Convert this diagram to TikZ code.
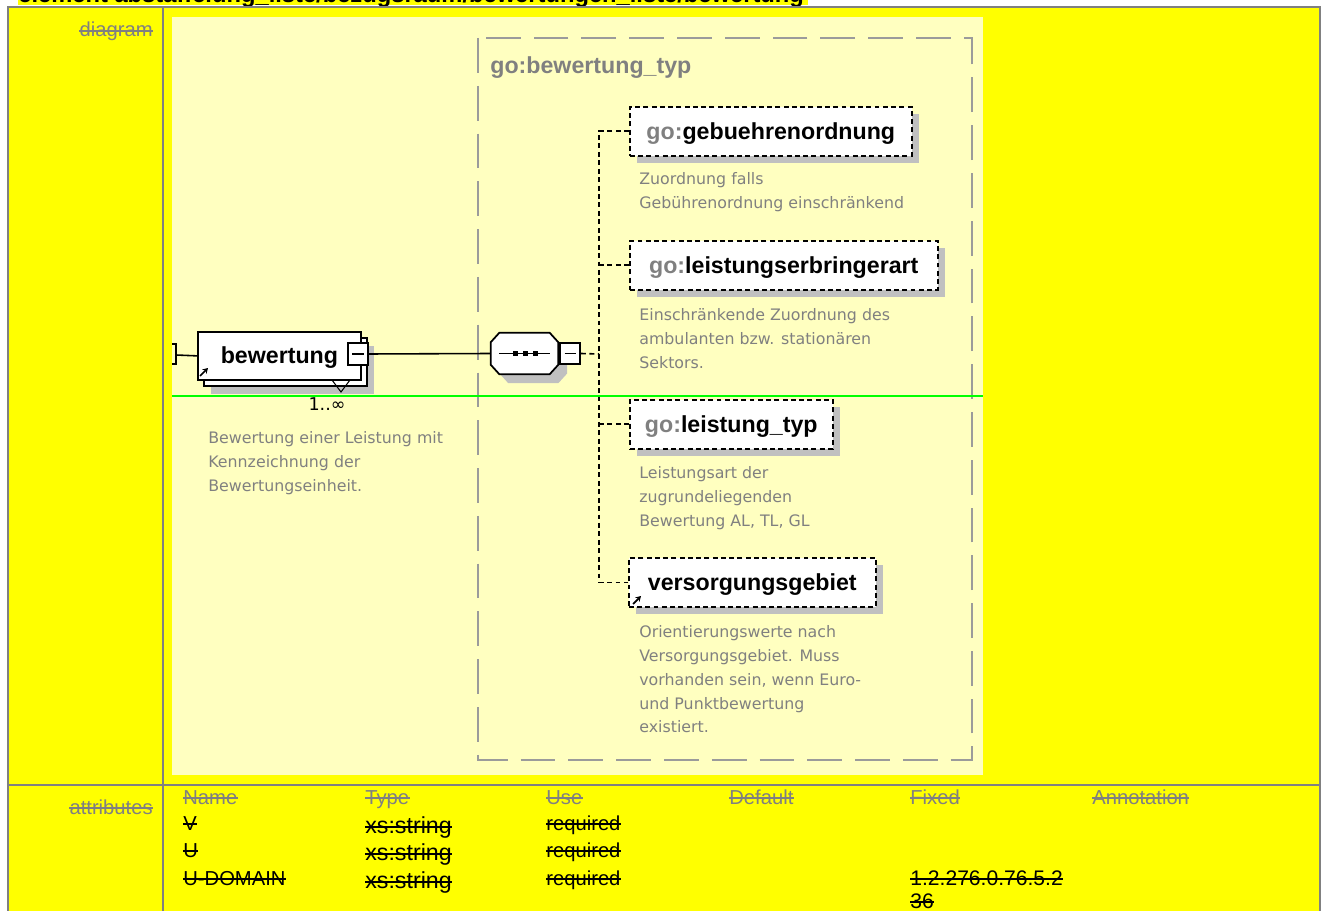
\documentclass[tikz,border=0pt]{standalone}
\usepackage{fontspec}
\setmainfont{Liberation Sans}
\newfontfamily\notefont{DejaVu Sans}
\usetikzlibrary{arrows.meta,calc,positioning,shadows}
\definecolor{cellyellow}{RGB}{255,255,0}
\definecolor{panelyellow}{RGB}{255,255,192}
\definecolor{gridgray}{RGB}{128,128,128}
\definecolor{boxgray}{RGB}{155,155,155}
\definecolor{shadegray}{RGB}{192,192,192}
\definecolor{guidegreen}{RGB}{0,255,0}
\newlength{\pxl}
\setlength{\pxl}{0.02cm}
\newcommand{\nsgo}{\textcolor{gridgray}{go:}}
% line through a table entry
\newcommand{\strikenode}[2][gridgray]{%
  \draw[#1, line width=0.75pt] ([yshift=3.4pt]#2.base west) -- ([yshift=3.4pt]#2.base east);}
% octagon round a node
\newcommand{\octpath}[1]{([xshift=5pt]#1.north west) -- ([xshift=-5pt]#1.north east)
  -- ([yshift=-5.5pt]#1.north east) -- ([yshift=5.5pt]#1.south east)
  -- ([xshift=-5pt]#1.south east) -- ([xshift=5pt]#1.south west)
  -- ([yshift=5.5pt]#1.south west) -- ([yshift=-5.5pt]#1.north west) -- cycle}

\begin{document}
\begin{tikzpicture}[x=0.02cm, y=-0.02cm, >=Stealth,
    tabfont/.style={font=\fontsize{11.5}{13}\selectfont, inner sep=0pt},
    tabhead/.style={tabfont, text=gridgray},
    tabcell/.style={tabfont, text=black},
    elem/.style={draw=black, line width=0.9pt, dash pattern=on 2.8pt off 1.9pt,
      fill=white, inner sep=0pt, anchor=north west, minimum height=49*\pxl,
      text height=1.1em, text depth=0.2em,
      font=\fontsize{13.2}{16}\selectfont\bfseries,
      general shadow={shadow xshift=4pt, shadow yshift=-4pt, fill=shadegray}},
    bewbox/.style={draw=black, line width=1pt, fill=white, inner sep=0pt,
      anchor=north west, minimum width=163*\pxl, minimum height=48*\pxl,
      text height=1.1em, text depth=0.2em,
      font=\fontsize{13.2}{16}\selectfont\bfseries,
      general shadow={shadow xshift=7.4pt, shadow yshift=-7.9pt, fill=shadegray},
      general shadow={shadow xshift=3.4pt, shadow yshift=-3.4pt, fill=white, draw=black}},
    seqbox/.style={inner sep=0pt, minimum width=67*\pxl, minimum height=41*\pxl},
    note/.style={anchor=north west, align=left, inner sep=0pt, text=gridgray,
      font=\notefont\fontsize{9}{13.6}\selectfont},
    wire/.style={line width=0.9pt},
    link/.style={line width=0.9pt, dash pattern=on 2.8pt off 2pt},
    minus/.style={draw=black, line width=0.9pt, fill=white, inner sep=0pt,
      minimum width=20*\pxl, minimum height=21*\pxl,
      path picture={\draw[line width=0.9pt]
        ([xshift=2.5pt]path picture bounding box.west) --
        ([xshift=-2.5pt]path picture bounding box.east);}},
    reflink/.style={-{Stealth[length=3pt,width=3.5pt]}, line width=1pt}
  ]
  \clip (0,0) rectangle (1324,911);
  \fill[white] (0,0) rectangle (1324,911);

  % Heading
  \fill[cellyellow] (18,-20) rectangle (808,5.5);
  \node[anchor=base west, inner sep=0pt, font=\fontsize{13.5}{15}\selectfont\bfseries]
    (title) at (18,2.5) {element abstaffelung\_liste/bezugsraum/bewertungen\_liste/bewertung};

  % Table
  \fill[cellyellow] (8,7) rectangle (1320,920);
  \draw[gridgray, line width=1.1pt] (8,920) -- (8,7) -- (1320,7) -- (1320,920);
  \draw[gridgray, line width=1.1pt] (163,7) -- (163,920);
  \draw[gridgray, line width=1.1pt] (8,785) -- (1320,785);
  \node[tabhead, anchor=base east] (diaglabel) at (153,37) {diagram};
  \node[tabhead, anchor=base east] (attrlabel) at (153,814) {attributes};
  \strikenode{diaglabel}
  \strikenode{attrlabel}

  % Diagram panel
  \fill[panelyellow] (172,17) rectangle (983,775);
  \draw[boxgray, line width=1.1pt, dash pattern=on 19.8pt off 7.4pt]
    (478,38) rectangle (972,760);
  \node[anchor=base west, inner sep=0pt, text=gridgray,
    font=\fontsize{13.2}{16}\selectfont\bfseries] (typname) at (490,74) {go:bewertung\_typ};

  % Element bewertung
  \coordinate (inlet) at (176,355);
  \draw[wire] (172,344) -- (176,344) -- (176,364) -- (172,364);
  \node[bewbox] (bewertung) at (197,331) {bewertung\hspace{8\pxl}};
  \node[minus, minimum height=22*\pxl] (bewminus) at (358,354) {};
  \draw[line width=0.6pt] (332,380) -- (341,392) -- (350,380);
  \draw[reflink] (200,376) -- (208,368);
  \node[anchor=base, inner sep=0pt, font=\notefont\fontsize{10}{12}\selectfont]
    (bewcount) at (327,411) {1..∞};
  \node[note] (bewnote) at (208,431) {Bewertung einer Leistung mit\\Kennzeichnung der\\Bewertungseinheit.};

  % Sequence
  \node[seqbox] (seq) at (524.5,353.5) {};
  \fill[shadegray, transform canvas={xshift=5pt, yshift=-5pt}] \octpath{seq};
  \draw[line width=1pt, fill=white] \octpath{seq};
  \draw[wire] ([xshift=5pt]seq.west) -- ([xshift=-4.5pt]seq.east);
  \foreach \sx in {515,525,535}
    \fill (\sx-2.5,351.5) rectangle (\sx+2.5,356.5);
  \node[minus, right=0.6pt of seq] (seqminus) {};
  \coordinate (spine) at (599,354);
  \draw[wire] (inlet) -- (bewertung.west);
  \draw[wire] (bewminus.east) -- (seq.west);
  \draw[link] (seqminus.east) -- (spine);

  % Children
  \node[elem, minimum width=282*\pxl] (gebuehr) at (629,106) {\nsgo gebuehrenordnung};
  \node[elem, minimum width=308*\pxl] (leistart) at (629,240) {\nsgo leistungserbringerart};
  \node[elem, minimum width=203*\pxl] (leisttyp) at (629,399) {\nsgo leistung\_typ};
  \node[elem, minimum width=247*\pxl] (versorg) at (628,557) {versorgungsgebiet};
  \draw[reflink] (633,604) -- (641,596);
  \draw[link] (gebuehr.west) -- (gebuehr.west -| spine) -- (versorg.west -| spine) -- (versorg.west);
  \draw[link] (leistart.west -| spine) -- (leistart.west);
  \draw[link] (leisttyp.west -| spine) -- (leisttyp.west);

  \node[note] (gebnote) at (639,172) {Zuordnung falls\\Gebührenordnung einschränkend};
  \node[note] (artnote) at (639,308) {Einschränkende Zuordnung des\\ambulanten bzw. stationären\\Sektors.};
  \node[note] (typnote) at (639,466) {Leistungsart der\\zugrundeliegenden\\Bewertung AL, TL, GL};
  \node[note] (versnote) at (639,625) {Orientierungswerte nach\\Versorgungsgebiet. Muss\\vorhanden sein, wenn Euro-\\und Punktbewertung\\existiert.};

  \draw[guidegreen, line width=1.1pt] (172,396) -- (983,396);

  % Attributes
  \foreach \hd/\hx in {Name/183, Type/365, Use/546, Default/729, Fixed/910, Annotation/1092} {
    \node[tabhead, anchor=base west] (head\hd) at (\hx,804) {\hd};
    \strikenode{head\hd}
  }
  \foreach \nm/\yy in {V/830, U/857, U-DOMAIN/885} {
    \node[tabcell, anchor=base west] (name\yy) at (183,\yy) {\nm};
    \node[tabcell, anchor=base west, font=\fontsize{13.2}{15}\selectfont]
      (type\yy) at (365,\yy+3) {xs:string};
    \node[tabcell, anchor=base west] (use\yy) at (546,\yy) {required};
    \strikenode[black]{name\yy}
    \strikenode[black]{type\yy}
    \strikenode[black]{use\yy}
  }
  \node[tabcell, anchor=base west, font=\fontsize{12}{14}\selectfont] (fixval) at (910,885) {1.2.276.0.76.5.2};
  \node[tabcell, anchor=base west, font=\fontsize{12}{14}\selectfont] (fixtail) at (910,908) {36};
  \strikenode[black]{fixval}
  \strikenode[black]{fixtail}
\end{tikzpicture}
\end{document}
